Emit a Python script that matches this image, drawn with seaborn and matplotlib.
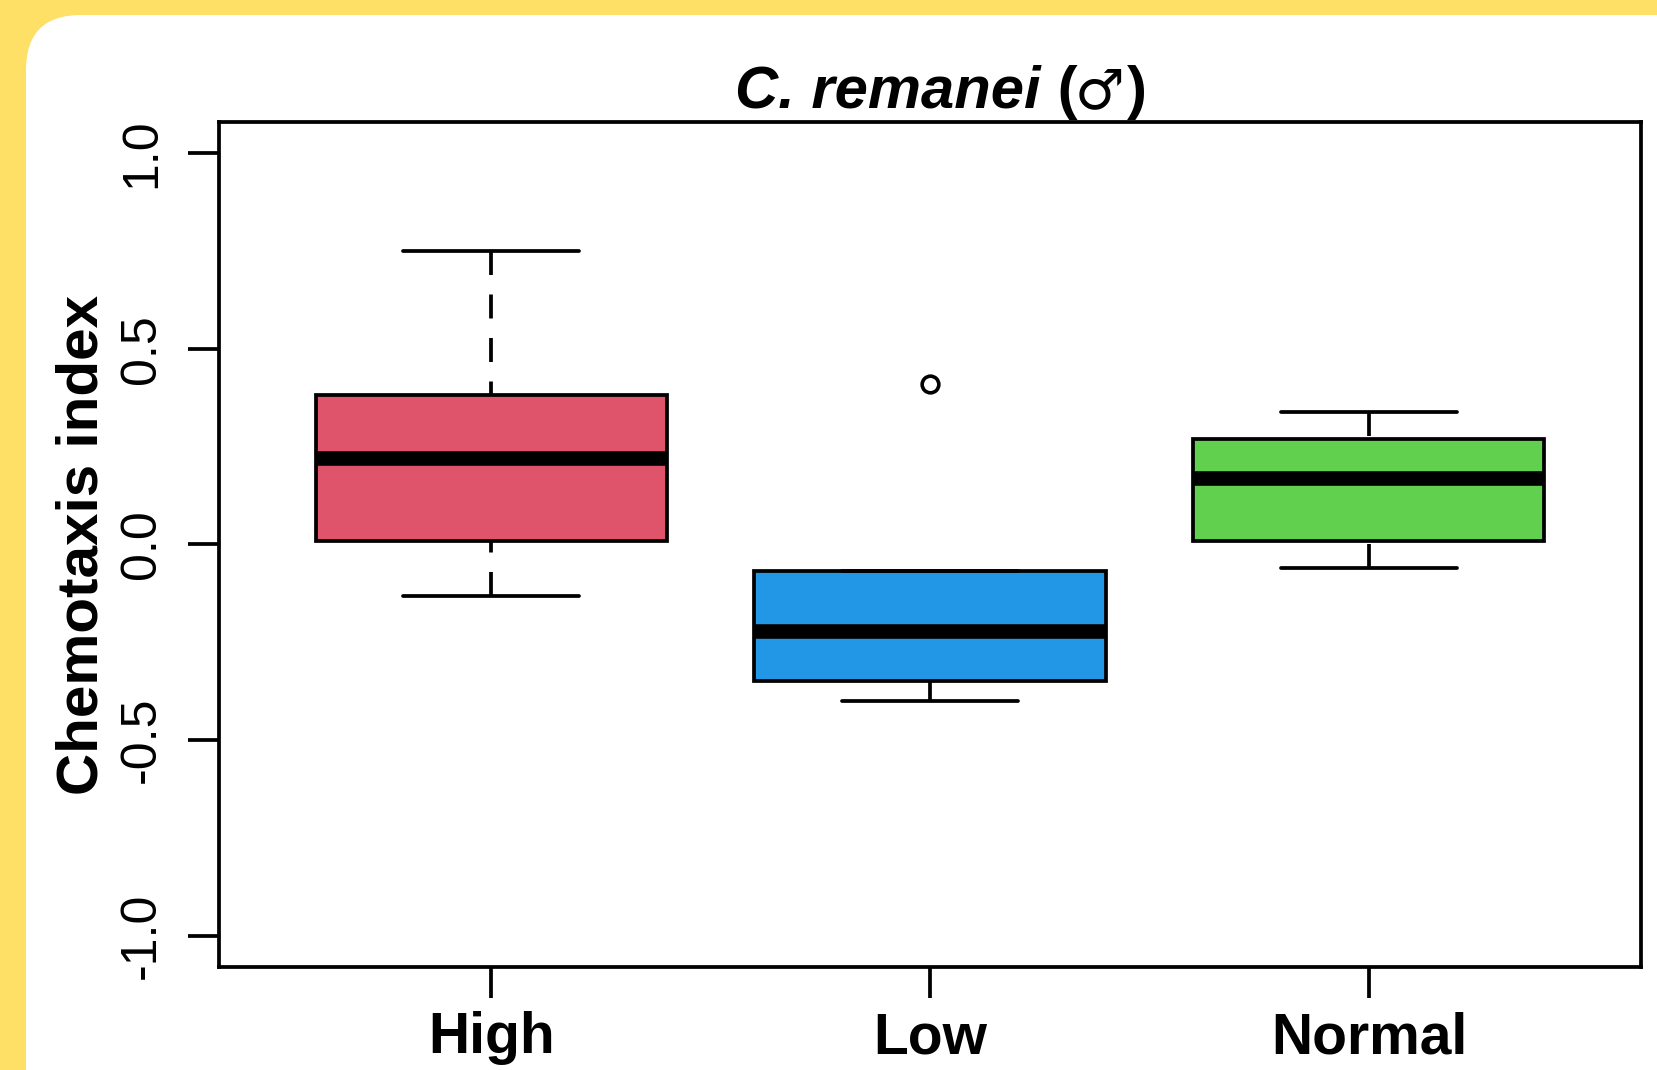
import matplotlib
matplotlib.use("Agg")
import matplotlib.pyplot as plt
from matplotlib.patches import FancyBboxPatch
from matplotlib.transforms import IdentityTransform
import seaborn as sns
import pandas as pd

# ---- data (five-number summaries) ----
categories = ["High", "Low", "Normal"]
high_values = [-0.131, 0.009, 0.220, 0.382, 0.750]
low_values = [-0.401, -0.350, -0.221, -0.069, 0.409]
normal_values = [-0.061, 0.009, 0.169, 0.269, 0.339]
box_colors = ["#DF536B", "#2297E6", "#61D04F"]
y_ticks = [-1.0, -0.5, 0.0, 0.5, 1.0]
y_tick_labels = ["-1.0", "-0.5", "0.0", "0.5", "1.0"]

df = pd.DataFrame({
    "condition": ["High"] * len(high_values) + ["Low"] * len(low_values) + ["Normal"] * len(normal_values),
    "ci": high_values + low_values + normal_values,
})

sns.set_style("white")
plt.rcParams["font.family"] = ["Liberation Sans", "DejaVu Sans"]
for k in ["text.color", "axes.labelcolor", "xtick.color", "ytick.color", "axes.edgecolor"]:
    plt.rcParams[k] = "black"

W, H = 1658, 1070
fig = plt.figure(figsize=(W / 100, H / 100), dpi=100)
fig.patch.set_facecolor("#FFE066")

# white rounded panel
panel = FancyBboxPatch((26, -80), 1800, H - 15 + 80,
                       boxstyle="round,pad=0,rounding_size=55",
                       transform=IdentityTransform(), facecolor="white",
                       edgecolor="none", zorder=-10)
fig.patches.append(panel)

ax = fig.add_axes([219 / W, 1 - 967 / H, (1641 - 219) / W, (967 - 122) / H])
ax.set_facecolor("white")
ax.set_zorder(1)

lw = 2.7
sns.boxplot(data=df, x="condition", y="ci", hue="condition", order=categories,
            hue_order=categories, palette=dict(zip(categories, box_colors)),
            saturation=1, width=0.8, linecolor="black", linewidth=lw,
            legend=False, ax=ax,
            medianprops={"linewidth": 10.5, "color": "black", "solid_capstyle": "butt"},
            whiskerprops={"linestyle": (0, (6.4, 5.2)), "linewidth": lw, "color": "black"},
            capprops={"linewidth": lw, "color": "black"},
            flierprops={"marker": "o", "markerfacecolor": "none", "markeredgecolor": "black",
                        "markeredgewidth": 2.6, "markersize": 12})

# make whisker dash pattern start at the caps (like R)
for line in ax.lines:
    x = list(line.get_xdata())
    y = list(line.get_ydata())
    if len(x) == 2 and x[0] == x[1]:
        line.set_data(x[::-1], y[::-1])

ax.set_xlim(-0.62, 2.62)
ax.set_ylim(-1.08, 1.08)

for s in ax.spines.values():
    s.set_visible(True)
    s.set_linewidth(lw)
    s.set_color("black")

ax.set_yticks(y_ticks)
ax.set_yticklabels(y_tick_labels, rotation=90, va="center", fontsize=36)
ax.tick_params(axis="y", length=22, width=lw, pad=17, left=True, colors="black")
ax.tick_params(axis="x", length=22, width=lw, pad=10, bottom=True, colors="black")
for t in ax.get_xticklabels():
    t.set_fontsize(41)
    t.set_fontweight("bold")

ax.set_xlabel("")
ax.set_ylabel("Chemotaxis index", fontsize=42, fontweight="bold", color="black")
ax.yaxis.set_label_coords(-0.077, 0.5)

# title: italic species name + male sign
ty = 1 - 108 / H
fig.text(1041 / W, ty, "C. remanei", fontsize=43, fontweight="bold", fontstyle="italic",
         ha="right", va="baseline", color="black")
fig.text(1041 / W, ty, " (", fontsize=43, fontweight="bold",
         ha="left", va="baseline", color="black")
fig.text(1100 / W, ty, "\u2642", fontsize=40, fontweight="normal",
         family=["DejaVu Sans"], ha="center", va="baseline", color="black")
fig.text(1127 / W, ty, ")", fontsize=43, fontweight="bold",
         ha="left", va="baseline", color="black")

fig.savefig("out.png", dpi=100, facecolor=fig.get_facecolor())
